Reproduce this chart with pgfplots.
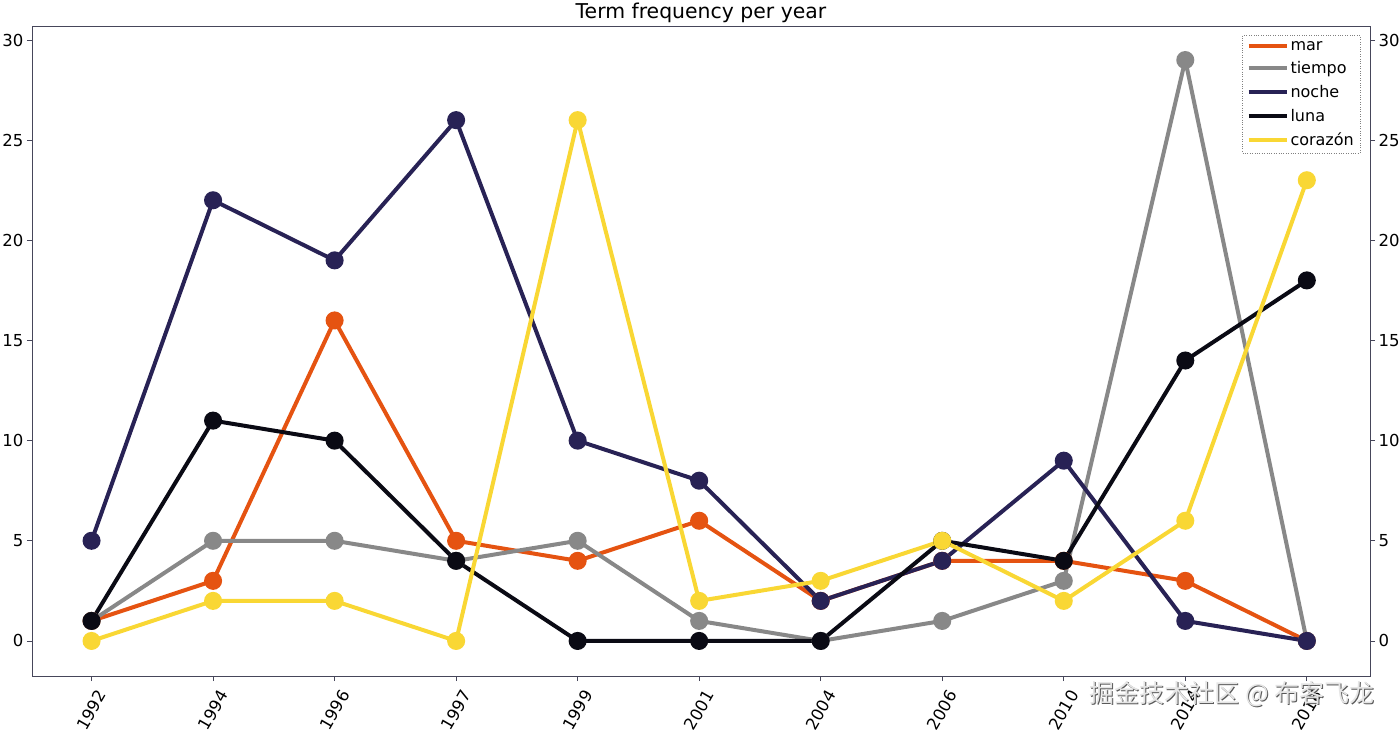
\documentclass[border=0pt]{standalone}
\usepackage{pgfplots}
\pgfplotsset{compat=1.18}
\usepackage{fontspec}
\setmainfont{DejaVu Sans}
\newfontfamily\cjk{Noto Sans CJK SC}
\usetikzlibrary{calc}

\definecolor{cmar}{RGB}{229,83,17}
\definecolor{ctiempo}{RGB}{136,136,136}
\definecolor{cnoche}{RGB}{40,34,85}
\definecolor{cluna}{RGB}{10,10,20}
\definecolor{ccorazon}{RGB}{249,215,52}
\definecolor{spine}{RGB}{70,70,90}

\begin{document}
\begin{tikzpicture}
\pgfplotsset{
  common/.style={
    scale only axis,
    width=1338pt, height=650pt,
    xmin=-0.49, xmax=10.52,
    ymin=-1.75, ymax=30.7,
    ytick={0,5,10,15,20,25,30},
    tick align=outside,
    major tick length=5pt,
    /pgf/number format/assume math mode=true,
    tick label style={font=\fontsize{16.5}{19}\selectfont},
    axis line style={spine, line width=0.8pt},
    every tick/.style={spine, line width=0.8pt},
  },
}
\begin{axis}[common,
  name=main,
  tick pos=left,
  xtick={0,1,2,3,4,5,6,7,8,9,10},
  xticklabels={1992,1994,1996,1997,1999,2001,2004,2006,2010,2014,2018},
  % shifts are in the rotated frame: (-25.1,-14.5) there is (0,-29) on the page
  xticklabel style={rotate=60, anchor=center, xshift=-25.1pt, yshift=-14.5pt},
  title={Term frequency per year},
  title style={font=\fontsize{20.4}{24}\selectfont, yshift=-6pt},
  legend cell align=left,
  legend style={at={(1,1)}, anchor=north east, xshift=-10pt, yshift=-9pt,
    draw=gray, dotted, fill=white,
    font=\fontsize{16}{19}\selectfont,
    row sep=6pt, inner sep=4pt},
  legend image code/.code={\draw[#1, mark=none, solid] (0pt,0pt) -- (38pt,0pt);},
  every axis plot/.append style={line width=4pt, mark=*, mark size=7pt, mark options={solid}},
]
\addplot[cmar] coordinates {
(0,1) (1,3) (2,16) (3,5) (4,4) (5,6) (6,2) (7,4) (8,4) (9,3) (10,0)
};
\addlegendentry{mar}
\addplot[ctiempo] coordinates {
(0,1) (1,5) (2,5) (3,4) (4,5) (5,1) (6,0) (7,1) (8,3) (9,29) (10,0)
};
\addlegendentry{tiempo}
\addplot[cnoche] coordinates {
(0,5) (1,22) (2,19) (3,26) (4,10) (5,8) (6,2) (7,4) (8,9) (9,1) (10,0)
};
\addlegendentry{noche}
\addplot[cluna] coordinates {
(0,1) (1,11) (2,10) (3,4) (4,0) (5,0) (6,0) (7,5) (8,4) (9,14) (10,18)
};
\addlegendentry{luna}
\addplot[ccorazon] coordinates {
(0,0) (1,2) (2,2) (3,0) (4,26) (5,2) (6,3) (7,5) (8,2) (9,6) (10,23)
};
\addlegendentry{corazón}
\end{axis}
\begin{axis}[common,
  at={(main.south west)}, anchor=south west,
  axis x line=none,
  axis y line*=right,
]
\end{axis}
\node[anchor=east, text=gray!70!black, font=\cjk\fontsize{25}{30}\selectfont]
  at ($(main.south east)+(9pt,-19pt)$) {掘金技术社区 @ 布客飞龙};
\node[anchor=east, text=gray!20, font=\cjk\fontsize{25}{30}\selectfont]
  at ($(main.south east)+(8pt,-18pt)$) {掘金技术社区 @ 布客飞龙};
\pgfresetboundingbox
\path[use as bounding box] ($(main.south west)+(-32pt,-55pt)$) rectangle ($(main.north east)+(30pt,26pt)$);
\end{tikzpicture}
\end{document}
